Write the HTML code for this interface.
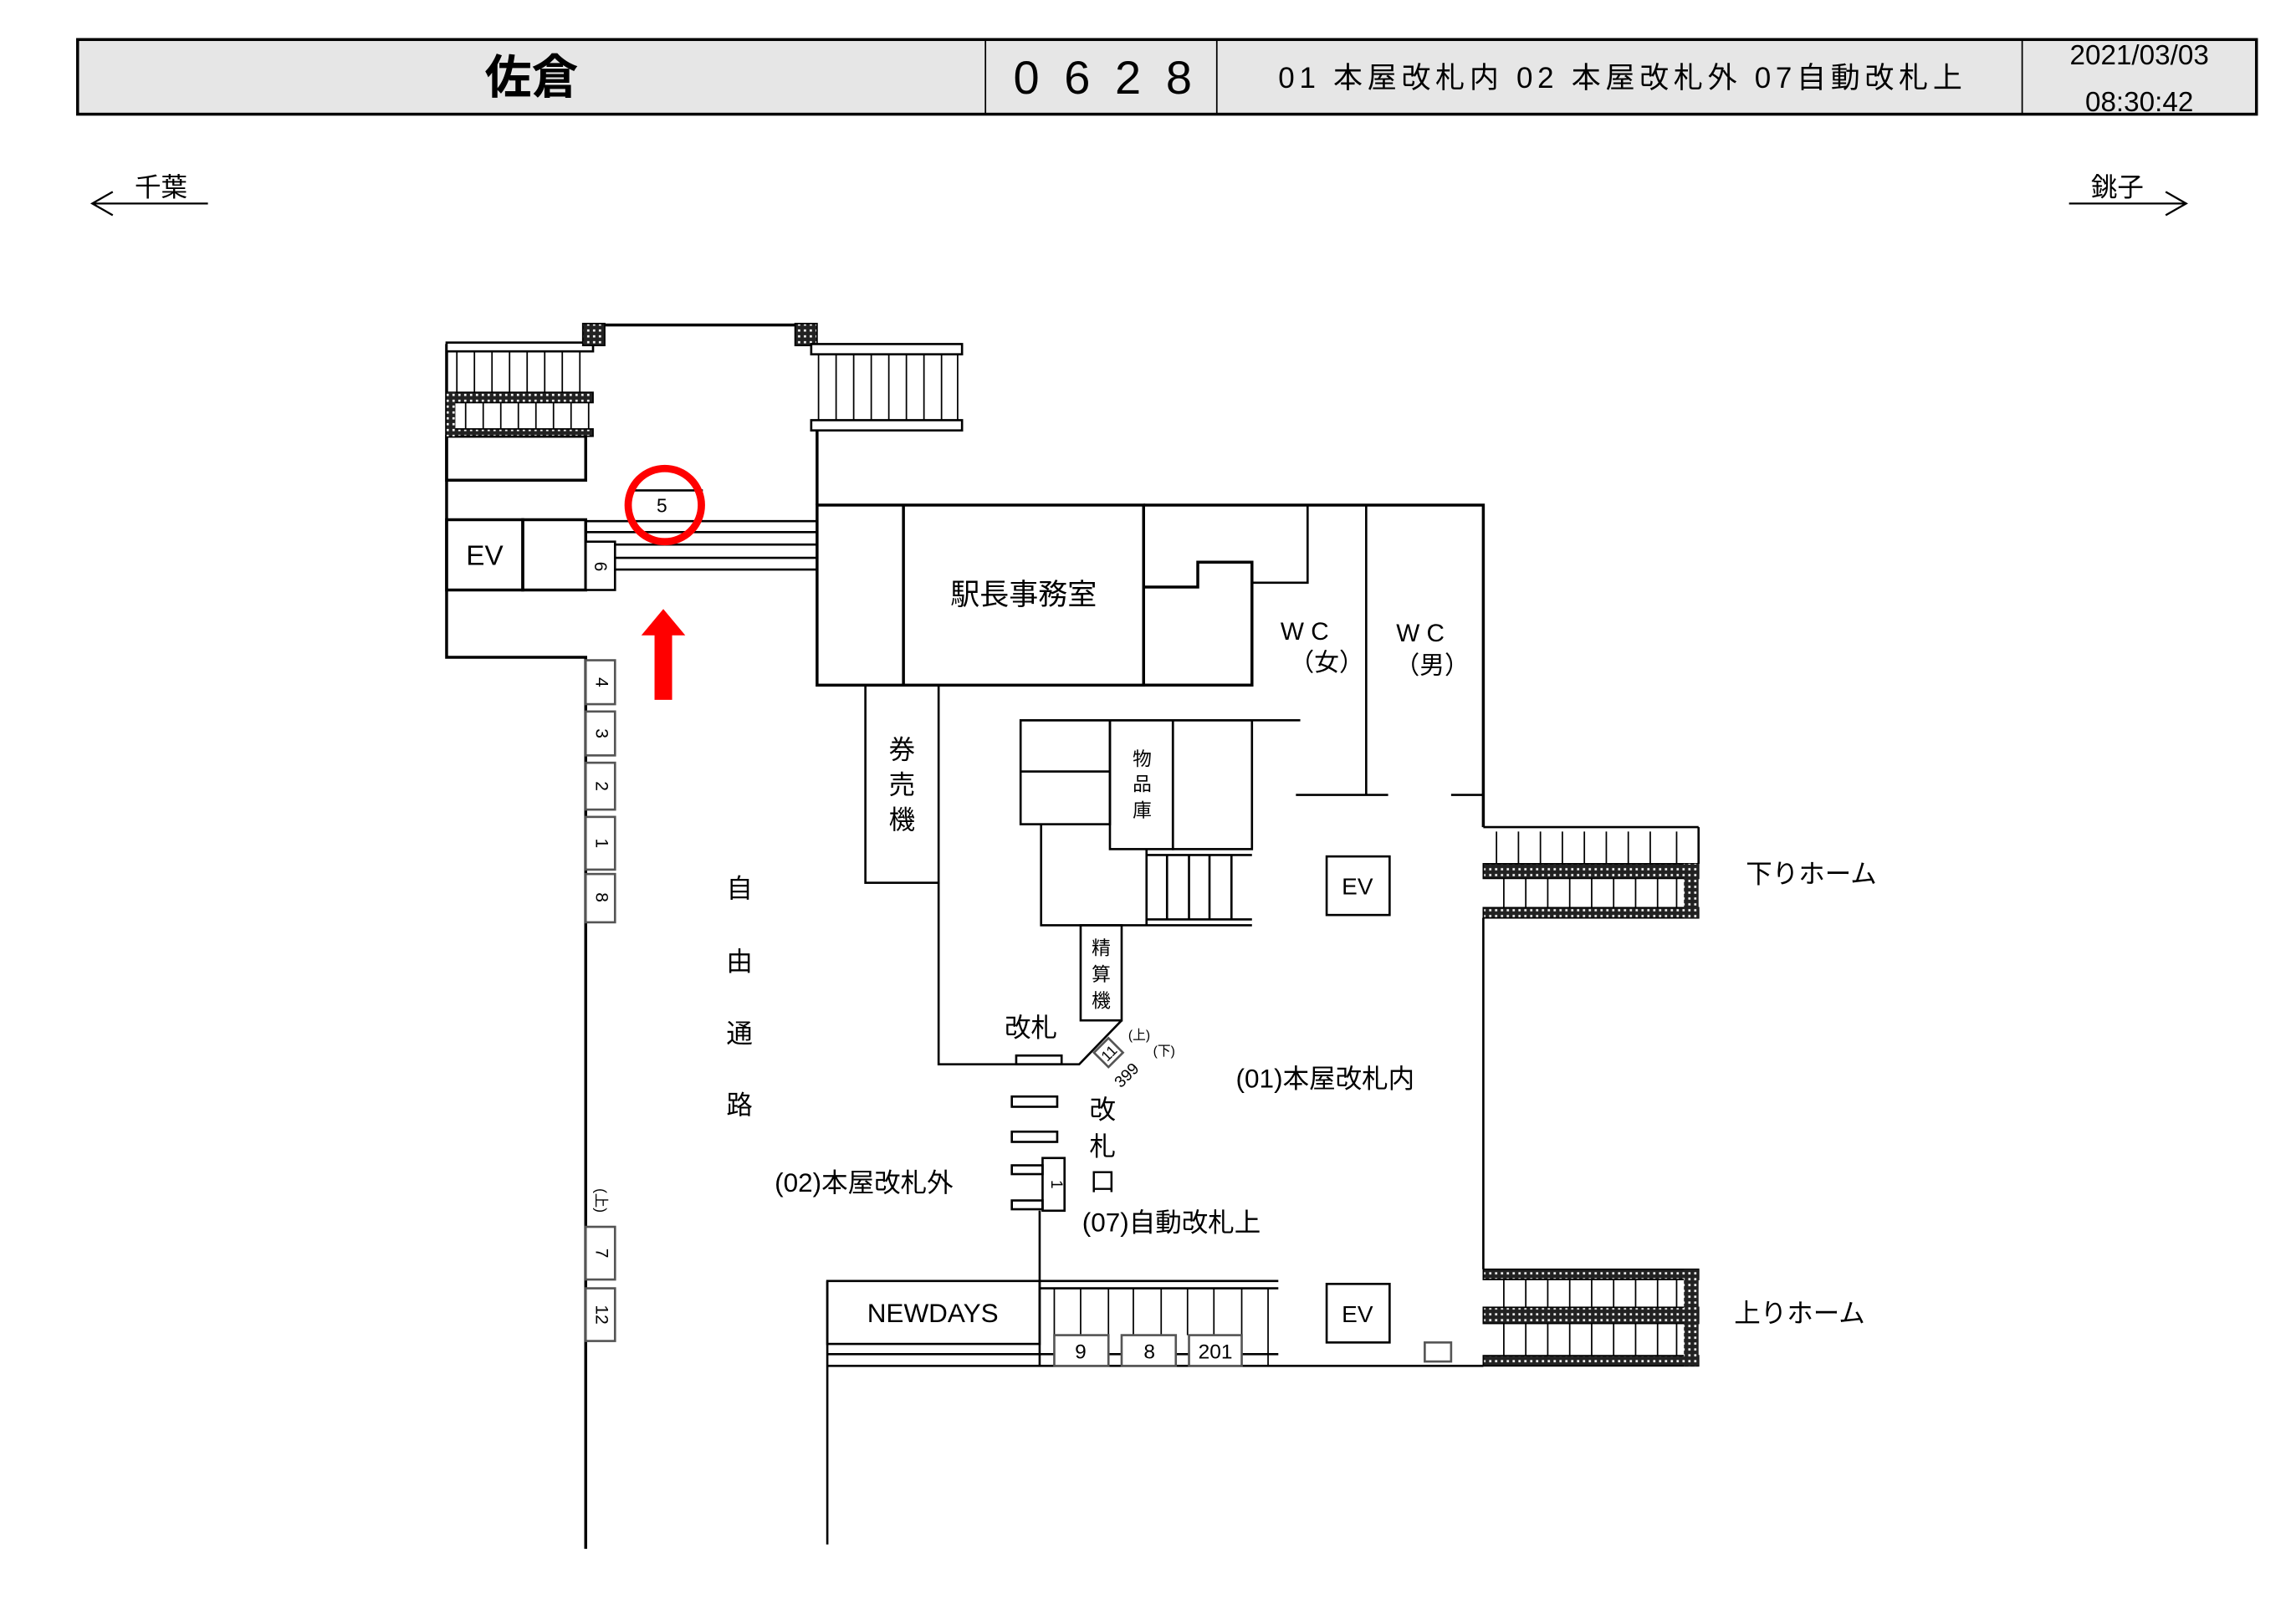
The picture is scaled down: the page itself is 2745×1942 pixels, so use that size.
<!DOCTYPE html>
<html><head><meta charset="utf-8"><style>
html,body{margin:0;padding:0;background:#fff}
svg{display:block}
text{font-family:"Liberation Sans","Noto Sans CJK JP",sans-serif;fill:#000}
</style></head><body>
<svg width="2745" height="1942" viewBox="0 0 1568 1109.3" xmlns="http://www.w3.org/2000/svg" xml:space="preserve">
<defs>
<pattern id="dot" width="4" height="4" patternUnits="userSpaceOnUse">
<rect width="4" height="4" fill="#222"/><rect x="1" y="1" width="1.5" height="1.5" fill="#fff"/>
</pattern>
</defs>
<!-- header -->
<rect x="53" y="27" width="1488" height="51" fill="#e6e6e6" stroke="#000" stroke-width="2"/>
<g stroke="#000" stroke-width="1"><line x1="673" y1="27" x2="673" y2="78"/><line x1="831" y1="27" x2="831" y2="78"/><line x1="1381" y1="27" x2="1381" y2="78"/></g>
<text x="363" y="64" font-size="32" text-anchor="middle" font-weight="bold">佐倉</text>
<text x="692" y="64" font-size="32" textLength="122" lengthAdjust="spacing">0628</text>
<text x="873" y="60" font-size="20" textLength="467" lengthAdjust="spacing">01 本屋改札内  02 本屋改札外  07自動改札上</text>
<text x="1461" y="44" font-size="19" text-anchor="middle">2021/03/03</text>
<text x="1461" y="76" font-size="19" text-anchor="middle">08:30:42</text>
<!-- direction arrows -->
<g stroke="#000" stroke-width="1.3" fill="none">
<line x1="63" y1="139" x2="142" y2="139"/><polyline points="77,131 63,139 77,147"/>
<line x1="1413" y1="139" x2="1493" y2="139"/><polyline points="1479,131 1493,139 1479,147"/>
</g>
<text x="110" y="134" font-size="18" text-anchor="middle">千葉</text>
<text x="1446" y="134" font-size="18" text-anchor="middle">銚子</text>

<g stroke="#000" stroke-width="2" fill="none">
<polyline points="305,235 305,449 400,449 400,1058"/>
<line x1="413" y1="222" x2="543" y2="222"/>
<line x1="558" y1="294" x2="558" y2="345"/>
<rect x="305" y="298" width="95" height="30"/>
<rect x="305" y="355" width="52" height="48"/>
<rect x="357" y="355" width="43" height="48"/>
</g>
<rect x="305" y="234" width="100" height="6" fill="#fff" stroke="#000" stroke-width="1.5"/>
<rect x="305" y="268" width="100" height="7" fill="url(#dot)" stroke="#000"/>
<rect x="305" y="293" width="100" height="5" fill="url(#dot)" stroke="#000"/>
<rect x="305" y="268" width="6" height="30" fill="url(#dot)"/>
<g stroke="#000" stroke-width="1">
<line x1="312" y1="240" x2="312" y2="268"/><line x1="324" y1="240" x2="324" y2="268"/><line x1="336" y1="240" x2="336" y2="268"/><line x1="348" y1="240" x2="348" y2="268"/><line x1="360" y1="240" x2="360" y2="268"/><line x1="372" y1="240" x2="372" y2="268"/><line x1="384" y1="240" x2="384" y2="268"/><line x1="396" y1="240" x2="396" y2="268"/>
<line x1="318" y1="275" x2="318" y2="293"/><line x1="330" y1="275" x2="330" y2="293"/><line x1="342" y1="275" x2="342" y2="293"/><line x1="354" y1="275" x2="354" y2="293"/><line x1="366" y1="275" x2="366" y2="293"/><line x1="378" y1="275" x2="378" y2="293"/><line x1="390" y1="275" x2="390" y2="293"/><line x1="402" y1="275" x2="402" y2="293"/>
</g>
<rect x="398" y="221" width="15" height="15" fill="url(#dot)" stroke="#000"/>
<rect x="543" y="221" width="15" height="15" fill="url(#dot)" stroke="#000"/>
<rect x="554" y="235" width="103" height="7" fill="#fff" stroke="#000" stroke-width="1.5"/>
<rect x="554" y="287" width="103" height="7" fill="#fff" stroke="#000" stroke-width="1.5"/>
<g stroke="#000" stroke-width="1">
<line x1="559" y1="242" x2="559" y2="287"/><line x1="571" y1="242" x2="571" y2="287"/><line x1="583" y1="242" x2="583" y2="287"/><line x1="595" y1="242" x2="595" y2="287"/><line x1="607" y1="242" x2="607" y2="287"/><line x1="619" y1="242" x2="619" y2="287"/><line x1="631" y1="242" x2="631" y2="287"/><line x1="643" y1="242" x2="643" y2="287"/><line x1="654" y1="242" x2="654" y2="287"/>
</g>
<g stroke="#000" stroke-width="1.5">
<line x1="400" y1="356" x2="558" y2="356"/><line x1="400" y1="363.5" x2="558" y2="363.5"/><line x1="420" y1="372" x2="558" y2="372"/><line x1="420" y1="381" x2="558" y2="381"/><line x1="420" y1="389" x2="558" y2="389"/>
<line x1="430" y1="335" x2="480" y2="335"/>
</g>
<rect x="400" y="370" width="20" height="33" fill="#fff" stroke="#000" stroke-width="1.5"/>
<text transform="translate(406,387) rotate(90)" font-size="12" text-anchor="middle">6</text>
<text x="331" y="386" font-size="19" text-anchor="middle">EV</text>
<text x="452" y="350" font-size="13" text-anchor="middle">5</text>
<ellipse cx="454" cy="345" rx="25" ry="25" fill="none" stroke="#f00" stroke-width="5"/>
<polygon points="453,416 468,434 459,434 459,478 447,478 447,434 438,434" fill="#f00"/>

<g stroke="#000" stroke-width="2" fill="none">
<rect x="558" y="345" width="223" height="123"/>
<line x1="617" y1="345" x2="617" y2="468"/>
<polyline points="781,345 1013,345 1013,565"/>
<polyline points="781,468 855,468 855,384 818,384 818,401 781,401"/>
</g>
<g stroke="#000" stroke-width="1.5" fill="none">
<polyline points="855,398 893,398 893,345"/>
<line x1="933" y1="345" x2="933" y2="543"/>
<line x1="885" y1="543" x2="948" y2="543"/>
<line x1="991" y1="543" x2="1013" y2="543"/>
<line x1="697" y1="492" x2="888" y2="492"/>
<rect x="697" y="492" width="61" height="71"/>
<line x1="697" y1="527" x2="758" y2="527"/>
<rect x="758" y="492" width="43" height="88"/>
<rect x="801" y="492" width="54" height="88"/>
<polyline points="711,563 711,632 855,632"/>
<line x1="783" y1="580" x2="783" y2="632"/><line x1="797" y1="584" x2="797" y2="628"/><line x1="812" y1="584" x2="812" y2="628"/><line x1="826" y1="584" x2="826" y2="628"/><line x1="841" y1="584" x2="841" y2="628"/>
<line x1="783" y1="584" x2="855" y2="584"/><line x1="783" y1="628" x2="855" y2="628"/>
<rect x="591" y="468" width="50" height="135"/>
<polyline points="641,603 641,727 737,727 766,697"/>
<rect x="738" y="632" width="28" height="65"/>
<rect x="694" y="721" width="31" height="6"/>
<rect x="691" y="749" width="31" height="7"/><rect x="691" y="773" width="31" height="7"/>
<rect x="691" y="796" width="21" height="6"/><rect x="691" y="820" width="21" height="6"/>
<rect x="712" y="791" width="15" height="36"/>
<line x1="710" y1="827" x2="710" y2="933"/>
<rect x="906" y="585" width="43" height="40"/>
<rect x="906" y="877" width="43" height="40"/>
</g>
<text x="699" y="413" font-size="20" text-anchor="middle">駅長事務室</text>
<text x="891" y="437" font-size="17" text-anchor="middle">W C</text>
<text x="906" y="458" font-size="17" text-anchor="middle">（女）</text>
<text x="970" y="438" font-size="17" text-anchor="middle">W C</text>
<text x="978" y="460" font-size="17" text-anchor="middle">（男）</text>
<text x="780" y="523" font-size="13" text-anchor="middle">物</text>
<text x="780" y="540" font-size="13" text-anchor="middle">品</text>
<text x="780" y="558" font-size="13" text-anchor="middle">庫</text>
<text x="616" y="518" font-size="18" text-anchor="middle">券</text>
<text x="616" y="542" font-size="18" text-anchor="middle">売</text>
<text x="616" y="566" font-size="18" text-anchor="middle">機</text>
<text x="752" y="652" font-size="13" text-anchor="middle">精</text>
<text x="752" y="670" font-size="13" text-anchor="middle">算</text>
<text x="752" y="688" font-size="13" text-anchor="middle">機</text>
<text x="704" y="708" font-size="18" text-anchor="middle">改札</text>
<rect x="750" y="712" width="14" height="14" transform="rotate(-45 757 719)" fill="#fff" stroke="#555" stroke-width="1.5"/>
<text transform="translate(757,719) rotate(-45)" font-size="10" text-anchor="middle" dy="4">11</text>
<text x="778" y="710" font-size="9" text-anchor="middle">(上)</text>
<text x="795" y="721" font-size="9" text-anchor="middle">(下)</text>
<text transform="translate(772,737) rotate(-45)" font-size="11" text-anchor="middle">399</text>
<text x="753" y="764" font-size="18" text-anchor="middle">改</text>
<text x="753" y="789" font-size="18" text-anchor="middle">札</text>
<text x="753" y="813" font-size="18" text-anchor="middle">口</text>
<text transform="translate(718,809) rotate(90)" font-size="11" text-anchor="middle">1</text>
<text x="905" y="743" font-size="18" text-anchor="middle">(01)本屋改札内</text>
<text x="590" y="814" font-size="18" text-anchor="middle">(02)本屋改札外</text>
<text x="800" y="841" font-size="18" text-anchor="middle">(07)自動改札上</text>
<text x="927" y="611" font-size="16" text-anchor="middle">EV</text>
<text x="927" y="903" font-size="16" text-anchor="middle">EV</text>

<g stroke="#000" stroke-width="1.5" fill="none">
<line x1="1013" y1="565" x2="1160" y2="565"/>
<line x1="1160" y1="565" x2="1160" y2="590"/>
<line x1="1013" y1="627" x2="1013" y2="867"/>
<line x1="565" y1="933" x2="1013" y2="933"/>
<line x1="565" y1="875" x2="565" y2="1055"/>
<rect x="565" y="875" width="145" height="43"/>
<line x1="710" y1="875" x2="873" y2="875"/><line x1="710" y1="880" x2="873" y2="880"/>
<line x1="565" y1="925" x2="873" y2="925"/>
</g>
<g stroke="#000" stroke-width="1">
<line x1="1022" y1="568" x2="1022" y2="590"/><line x1="1037" y1="568" x2="1037" y2="590"/><line x1="1052" y1="568" x2="1052" y2="590"/><line x1="1067" y1="568" x2="1067" y2="590"/><line x1="1082" y1="568" x2="1082" y2="590"/><line x1="1097" y1="568" x2="1097" y2="590"/><line x1="1112" y1="568" x2="1112" y2="590"/><line x1="1127" y1="568" x2="1127" y2="590"/><line x1="1145" y1="568" x2="1145" y2="590"/>
<line x1="1027" y1="600" x2="1027" y2="620"/><line x1="1042" y1="600" x2="1042" y2="620"/><line x1="1057" y1="600" x2="1057" y2="620"/><line x1="1072" y1="600" x2="1072" y2="620"/><line x1="1087" y1="600" x2="1087" y2="620"/><line x1="1102" y1="600" x2="1102" y2="620"/><line x1="1117" y1="600" x2="1117" y2="620"/><line x1="1132" y1="600" x2="1132" y2="620"/><line x1="1145" y1="600" x2="1145" y2="620"/>
<line x1="1027" y1="874" x2="1027" y2="893"/><line x1="1042" y1="874" x2="1042" y2="893"/><line x1="1057" y1="874" x2="1057" y2="893"/><line x1="1072" y1="874" x2="1072" y2="893"/><line x1="1087" y1="874" x2="1087" y2="893"/><line x1="1102" y1="874" x2="1102" y2="893"/><line x1="1117" y1="874" x2="1117" y2="893"/><line x1="1132" y1="874" x2="1132" y2="893"/><line x1="1145" y1="874" x2="1145" y2="893"/>
<line x1="1027" y1="904" x2="1027" y2="926"/><line x1="1042" y1="904" x2="1042" y2="926"/><line x1="1057" y1="904" x2="1057" y2="926"/><line x1="1072" y1="904" x2="1072" y2="926"/><line x1="1087" y1="904" x2="1087" y2="926"/><line x1="1102" y1="904" x2="1102" y2="926"/><line x1="1117" y1="904" x2="1117" y2="926"/><line x1="1132" y1="904" x2="1132" y2="926"/><line x1="1145" y1="904" x2="1145" y2="926"/>
<line x1="720" y1="880" x2="720" y2="933"/><line x1="738" y1="880" x2="738" y2="912"/><line x1="757" y1="880" x2="757" y2="912"/><line x1="774" y1="880" x2="774" y2="912"/><line x1="793" y1="880" x2="793" y2="912"/><line x1="811" y1="880" x2="811" y2="912"/><line x1="829" y1="880" x2="829" y2="912"/><line x1="848" y1="880" x2="848" y2="933"/><line x1="866" y1="880" x2="866" y2="933"/>
</g>
<rect x="1013" y="590" width="147" height="10" fill="url(#dot)" stroke="#000"/>
<rect x="1013" y="620" width="147" height="7" fill="url(#dot)" stroke="#000"/>
<rect x="1150" y="590" width="10" height="37" fill="url(#dot)"/>
<rect x="1013" y="867" width="147" height="7" fill="url(#dot)" stroke="#000"/>
<rect x="1013" y="893" width="147" height="11" fill="url(#dot)" stroke="#000"/>
<rect x="1013" y="926" width="147" height="7" fill="url(#dot)" stroke="#000"/>
<rect x="1150" y="867" width="10" height="66" fill="url(#dot)"/>
<text x="1237" y="603" font-size="18" text-anchor="middle">下りホーム</text>
<text x="1229" y="903" font-size="18" text-anchor="middle">上りホーム</text>
<text x="637" y="903" font-size="18" text-anchor="middle">NEWDAYS</text>
<g fill="#fff" stroke="#555" stroke-width="1.5">
<rect x="720" y="912" width="37" height="21"/><rect x="766" y="912" width="37" height="21"/><rect x="812" y="912" width="36" height="21"/>
<rect x="973" y="917" width="18" height="13"/>
</g>
<text x="738" y="928" font-size="14" text-anchor="middle">9</text>
<text x="785" y="928" font-size="14" text-anchor="middle">8</text>
<text x="830" y="928" font-size="14" text-anchor="middle">201</text>

<g fill="#fff" stroke="#555" stroke-width="1.5">
<rect x="400" y="451" width="20" height="30"/><rect x="400" y="486" width="20" height="30"/><rect x="400" y="521" width="20" height="32"/><rect x="400" y="558" width="20" height="36"/><rect x="400" y="597" width="20" height="33"/><rect x="400" y="838" width="20" height="36"/><rect x="400" y="880" width="20" height="36"/>
</g>
<g font-size="12" text-anchor="middle">
<text transform="translate(407,466) rotate(90)">4</text>
<text transform="translate(407,501) rotate(90)">3</text>
<text transform="translate(407,537) rotate(90)">2</text>
<text transform="translate(407,576) rotate(90)">1</text>
<text transform="translate(407,613) rotate(90)">8</text>
<text transform="translate(407,856) rotate(90)">7</text>
<text transform="translate(407,898) rotate(90)">12</text>
<text transform="translate(407,820) rotate(90)" font-size="10">(上)</text>
</g>
<g font-size="18" text-anchor="middle">
<text x="505" y="613">自</text><text x="505" y="663">由</text><text x="505" y="712">通</text><text x="505" y="761">路</text>
</g>
</svg>
</body></html>
